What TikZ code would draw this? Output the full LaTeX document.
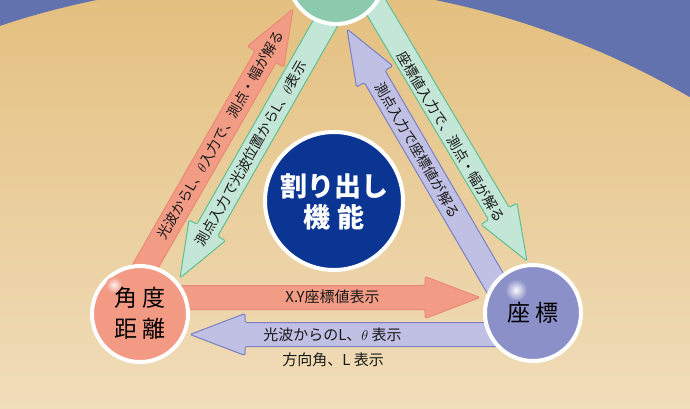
\documentclass[tikz,border=0pt]{standalone}
\usepackage{fontspec}
\setmainfont{Noto Sans CJK JP}
\usetikzlibrary{calc}
\definecolor{bgblue}{HTML}{6272AE}
\definecolor{tantop}{HTML}{E4C080}
\definecolor{tanbot}{HTML}{F0DDBA}
\definecolor{salfill}{HTML}{F29C86}
\definecolor{salline}{HTML}{EA8A74}
\definecolor{grnfill}{HTML}{C4E6D6}
\definecolor{grnline}{HTML}{5EC092}
\definecolor{lavfill}{HTML}{C0C0E4}
\definecolor{lavline}{HTML}{7A80C4}
\definecolor{topcirc}{HTML}{8CCAAE}
\definecolor{lcirc}{HTML}{F29A84}
\definecolor{rcirc}{HTML}{8C90C8}
\definecolor{ccirc}{HTML}{0B3592}
\newcommand\shw{12pt}
\newcommand\hhw{21pt}
\newcommand\hlen{55pt}
\newcommand\fatarrow[3]{%
  \path[#3] ($(#1)!\shw!90:(#2)$) -- ($(#2)!\hlen!(#1)!\shw!90:(#2)$)
    -- ($(#2)!\hlen!(#1)!\hhw!90:(#2)$) -- (#2)
    -- ($(#2)!\hlen!(#1)!\hhw!-90:(#2)$) -- ($(#2)!\hlen!(#1)!\shw!-90:(#2)$)
    -- ($(#1)!\shw!-90:(#2)$) -- cycle;}
\begin{document}
\begin{tikzpicture}[x=1pt,y=1pt,
  circ/.style={circle, draw=white, line width=4pt, minimum size=96pt, inner sep=0pt, align=center},
  lbl/.style={font=\fontsize{14}{16}\selectfont, inner sep=0pt, text=black!90},
  hlbl/.style={font=\fontsize{15}{17}\selectfont, inner sep=0pt, text=black!90},
  bigtxt/.style={font=\fontsize{23}{31}\selectfont, text=black},
  salarrow/.style={fill=salfill, draw=salline, line width=1pt, rounded corners=1.5pt, line join=round},
  grnarrow/.style={fill=grnfill, draw=grnline, line width=1pt, rounded corners=1.5pt, line join=round},
  lavarrow/.style={fill=lavfill, draw=lavline, line width=1pt, rounded corners=1.5pt, line join=round}]
\useasboundingbox (0,0) rectangle (690,-408);
\clip (0,0) rectangle (690,-408);
% background
\shade[top color=tantop, bottom color=tanbot] (0,0) rectangle (690,-408);
\fill[bgblue, even odd rule] (-10,10) rectangle (700,-420) (266,-826) circle (843);
% arrow end points
\coordinate (s1a) at (126,-300); \coordinate (s1b) at (293,-9);
\coordinate (g2a) at (350,20);   \coordinate (g2b) at (180,-278);
\coordinate (g3a) at (360,20);   \coordinate (g3b) at (527,-261);
\coordinate (l4a) at (505,-300); \coordinate (l4b) at (347,-29);
\coordinate (s5a) at (140,-297.5); \coordinate (s5b) at (480,-297.5);
\coordinate (l6a) at (533,-334.5); \coordinate (l6b) at (190,-334.5);
% arrows
\fatarrow{s1a}{s1b}{salarrow}
\fatarrow{g2a}{g2b}{grnarrow}
\fatarrow{g3a}{g3b}{grnarrow}
\fatarrow{l4a}{l4b}{lavarrow}
\fatarrow{s5a}{s5b}{salarrow}
\fatarrow{l6a}{l6b}{lavarrow}
% circles
\node[circ, fill=topcirc] (top) at (336,24) {};
\node[circ, fill=lcirc] (ang) at (140,-314) {};
\node[circ, fill=rcirc] (xy) at (533,-313) {};
\node[circ, fill=ccirc, minimum size=138pt] (ctr) at (334,-201) {};
% highlights
\shade[inner color=white!85!lcirc, outer color=lcirc] (114,-285) circle (8);
\shade[inner color=white!95!rcirc, outer color=rcirc] (516,-290) circle (11);
% circle texts
\node[bigtxt, align=center, inner sep=0pt] (angt) at (140,-313) {角\hspace{5pt}度\\距\hspace{5pt}離};
\node[bigtxt, inner sep=0pt] (xyt) at (533,-313) {座\hspace{6pt}標};
\node[font=\fontsize{27}{31}\selectfont\bfseries, text=white, align=center, inner sep=0pt] (ctrt) at (334,-202) {割り出し\\機\hspace{7pt}能};
% arrow labels
\node[lbl, rotate=60.2] (t1) at (220.5,-135) {光波からL、$\theta$入力で、測点・幅が解る};
\node[lbl, rotate=60.3] (t2) at (251,-153.5) {測点入力で光波位置からL、$\theta$表示};
\node[lbl, rotate=-59.2] (t3) at (451,-137) {座標値入力で、測点・幅が解る};
\node[lbl, rotate=-59.8] (t4) at (417.5,-150) {測点入力で座標値が解る};
\node[hlbl] (t5) at (332.5,-297) {X.Y座標値表示};
\node[hlbl] (t6) at (332.5,-335) {光波からのL、$\theta$ 表示};
\node[hlbl] (t7) at (333,-360) {方向角、L 表示};
\end{tikzpicture}
\end{document}
